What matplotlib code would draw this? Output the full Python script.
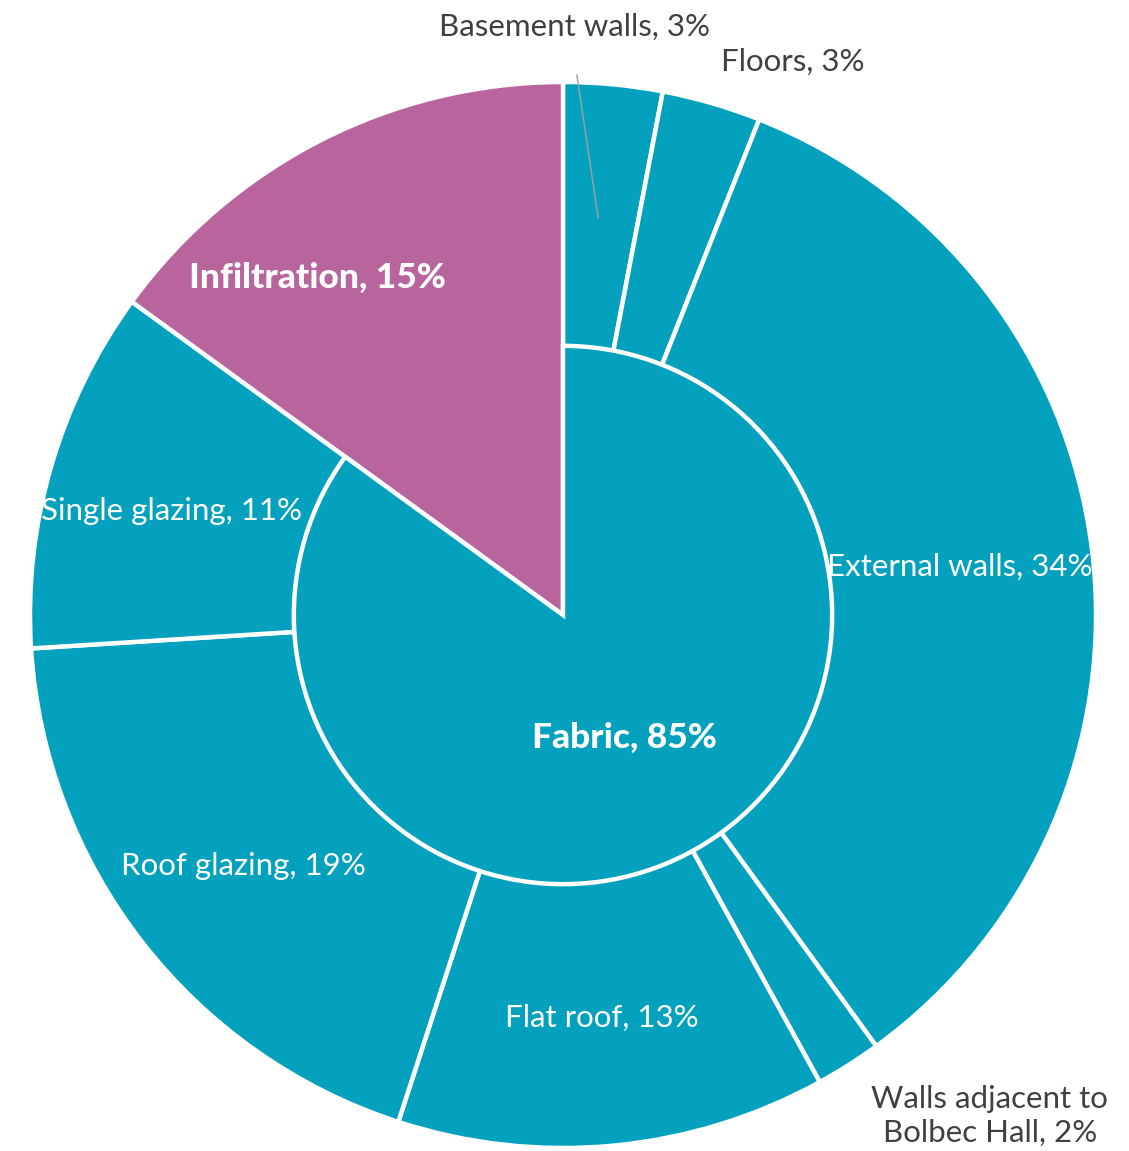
import matplotlib
matplotlib.use("Agg")
import matplotlib.pyplot as plt

plt.rcParams['font.family'] = ['Lato', 'DejaVu Sans']

# Heat loss breakdown
inner_labels = ["Fabric", "Infiltration"]
inner_values = [85, 15]

fabric_labels = ["Basement walls", "Floors", "External walls",
                 "Walls adjacent to\nBolbec Hall", "Flat roof",
                 "Roof glazing", "Single glazing"]
fabric_values = [3, 3, 34, 2, 13, 19, 11]

TEAL = "#03A1BE"
PINK = "#B8659E"

fig = plt.figure(figsize=(11.29, 11.51), dpi=100)
ax = fig.add_axes([0, 0, 1, 1])

R_OUT = 1.0
R_IN = 0.505
edge = dict(edgecolor="white", linewidth=3.2)

# Outer ring: fabric components plus infiltration, which extends to the rim
outer_values = fabric_values + [inner_values[1]]
outer_colors = [TEAL] * len(fabric_values) + [PINK]
ax.pie(outer_values, radius=R_OUT, colors=outer_colors, startangle=90,
       counterclock=False, wedgeprops=edge)

# Inner disc: fabric share (infiltration left open so it reads as one wedge)
wedges, _ = ax.pie(inner_values, radius=R_IN, colors=[TEAL, "none"],
                   startangle=90, counterclock=False, wedgeprops=edge)
wedges[1].set_edgecolor("none")

ax.set_xlim(-563 / 533, (1129 - 563) / 533)
ax.set_ylim(-(1151 - 615) / 533, 615 / 533)
ax.set_aspect("equal")
ax.axis("off")

fs = 22.5
fs_bold = 25.5
dark = "#404040"

# Labels inside the ring
ax.text(0.745, 0.090, f"{fabric_labels[2]}, {fabric_values[2]}%", color="white",
        fontsize=fs, ha="center", va="center")
ax.text(0.073, -0.756, f"{fabric_labels[4]}, {fabric_values[4]}%", color="white",
        fontsize=fs, ha="center", va="center")
ax.text(-0.600, -0.471, f"{fabric_labels[5]}, {fabric_values[5]}%", color="white",
        fontsize=fs, ha="center", va="center")
ax.text(-0.734, 0.195, f"{fabric_labels[6]}, {fabric_values[6]}%", color="white",
        fontsize=fs, ha="center", va="center")

# Labels outside for the narrow slices
ax.text(0.0225, 1.103, f"{fabric_labels[0]}, {fabric_values[0]}%", color=dark,
        fontsize=fs, ha="center", va="center")
ax.plot([0.026, 0.066], [1.013, 0.745], color="#A0A0A0", linewidth=1.0)
ax.text(0.4315, 1.0375, f"{fabric_labels[1]}, {fabric_values[1]}%", color=dark,
        fontsize=fs, ha="center", va="center")
ax.text(0.801, -0.940, f"{fabric_labels[3]}, {fabric_values[3]}%", color=dark,
        fontsize=fs, ha="center", va="center", linespacing=1.25)

# Heavy labels for the two main categories
ax.text(-0.460, 0.632, f"{inner_labels[1]}, {inner_values[1]}%", color="white",
        fontsize=fs_bold, fontweight="black", ha="center", va="center")
ax.text(0.116, -0.231, f"{inner_labels[0]}, {inner_values[0]}%", color="white",
        fontsize=fs_bold, fontweight="black", ha="center", va="center")

fig.savefig("out.png", dpi=100)
